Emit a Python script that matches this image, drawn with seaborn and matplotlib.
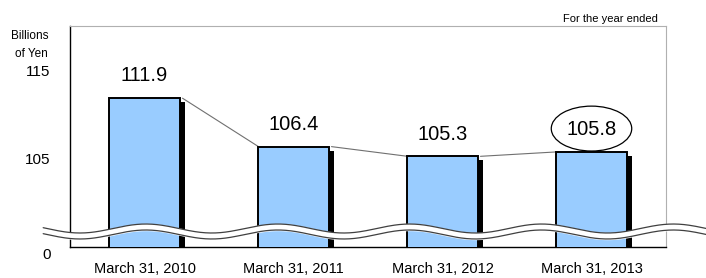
import numpy as np
import pandas as pd
import seaborn as sns
import matplotlib.pyplot as plt
import matplotlib.patheffects as pe
import matplotlib.transforms as mtransforms
from matplotlib.patches import Ellipse

years = ["March 31, 2010", "March 31, 2011", "March 31, 2012", "March 31, 2013"]
values = [111.9, 106.4, 105.3, 105.8]
ytick_vals = [95, 105, 115]
ytick_labels = ["0", "105", "115"]

df = pd.DataFrame({"year": years, "value": values})

sns.set_style("white")
plt.rcParams["font.family"] = ["Liberation Sans", "DejaVu Sans"]
plt.rcParams["text.color"] = "black"
plt.rcParams["xtick.labelcolor"] = "black"
plt.rcParams["ytick.labelcolor"] = "black"

fig = plt.figure(figsize=(7.06, 2.78), dpi=100)
ax = fig.add_axes([70 / 706, 1 - 247 / 278, 596 / 706, 221 / 278])

sns.barplot(data=df, x="year", y="value", color="#99CCFF", saturation=1,
            width=0.47, edgecolor="black", linewidth=1.4, ax=ax, zorder=3)
for p in ax.patches:
    p.set_path_effects([pe.SimplePatchShadow(offset=(4, -3), shadow_rgbFace="black", alpha=1),
                        pe.Normal()])

ax.set_ylim(95, 120.1)
ax.set_xlim(-0.5, 3.5)

# connector lines between bar tops
bars = ax.patches
for a, b in zip(bars[:-1], bars[1:]):
    ax.plot([a.get_x() + a.get_width() + 0.02, b.get_x()], [a.get_height(), b.get_height()],
            color="#707070", lw=0.8, zorder=2)

# value labels
for p, v in zip(bars, values):
    cx = p.get_x() + p.get_width() / 2
    ax.annotate(f"{v:.1f}", (cx, v), xytext=(0, 16), textcoords="offset points",
                ha="center", va="center", fontsize=14.5, zorder=6)
last = bars[-1]
ax.add_patch(Ellipse((last.get_x() + last.get_width() / 2, values[-1] + 2.65), 0.54, 5.1,
                     facecolor="none", edgecolor="black", lw=0.9, zorder=5))

# axis break wave
xs = np.linspace(-0.68, 3.8, 400)
yc = 96.76 - 0.51 * np.cos(2 * np.pi * (xs + 0.433) / 0.885)
band = ax.fill_between(xs, yc - 0.34, yc + 0.34, color="white", zorder=7)
band.set_clip_on(False)
for off in (-0.34, 0.34):
    ln, = ax.plot(xs, yc + off, color="#404040", lw=0.9, zorder=8)
    ln.set_clip_on(False)

# axes styling
ax.set_yticks(ytick_vals)
ax.set_yticklabels(ytick_labels, fontsize=11)
ax.set_xticks(range(len(years)))
ax.set_xticklabels(years, fontsize=10.5, family=["Liberation Sans Narrow", "Liberation Sans"])
ax.set_xticks([0.5, 1.5, 2.5], minor=True)
ax.tick_params(axis="x", which="major", length=0, pad=11)
ax.tick_params(axis="x", which="minor", direction="in", length=4, color="#999999")
ax.tick_params(axis="y", direction="in", length=5, color="#999999", pad=14)
ax.set_xlabel("")
ax.set_ylabel("")
# the "0" label sits a little below the axis line
zero = ax.get_yticklabels()[0]
zero.set_transform(zero.get_transform() + mtransforms.ScaledTranslation(0, -5 / 72, fig.dpi_scale_trans))
for s in ("left", "bottom"):
    ax.spines[s].set_color("black")
    ax.spines[s].set_linewidth(1)
for s in ("top", "right"):
    ax.spines[s].set_color("#b0b0b0")
    ax.spines[s].set_linewidth(0.8)

fig.text(48 / 706, 1 - 45 / 278, "Billions\nof Yen", ha="right", va="center",
         fontsize=8.5, linespacing=1.7)
fig.text(658 / 706, 1 - 19 / 278, "For the year ended", ha="right", va="center",
         fontsize=8)

fig.savefig("out.png", dpi=100)
